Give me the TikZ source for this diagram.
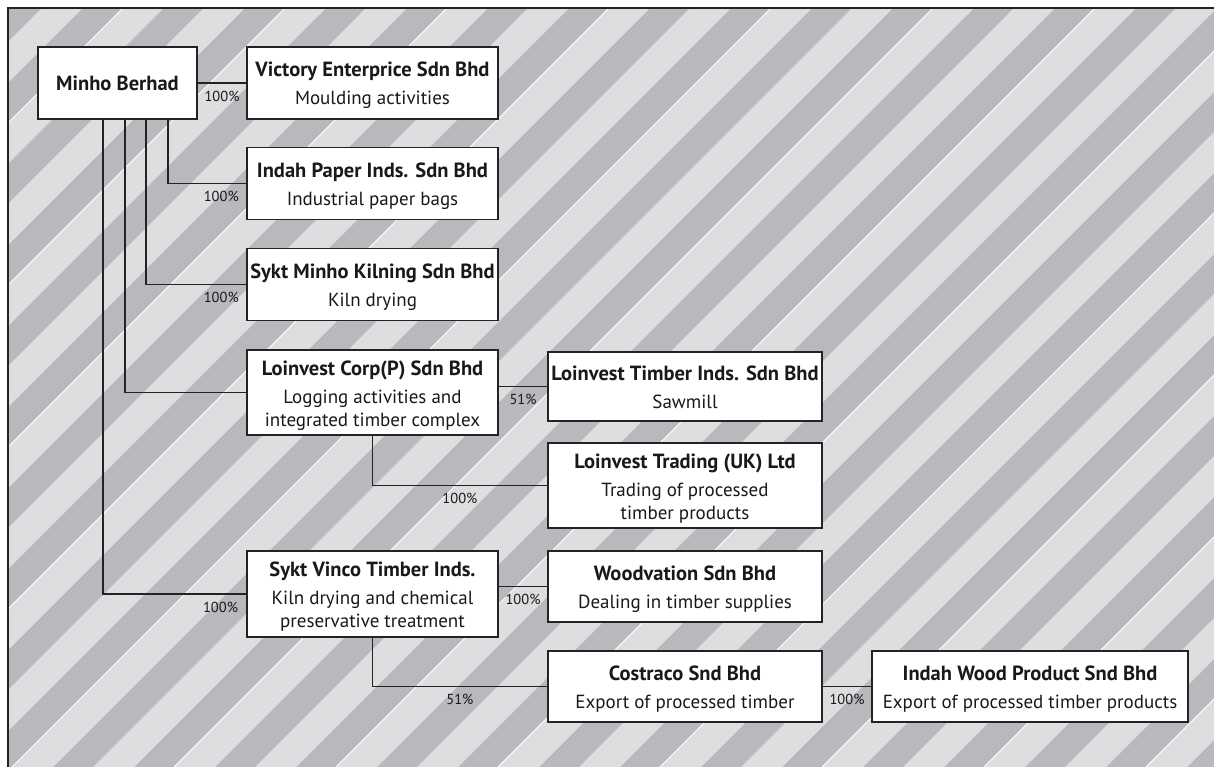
\documentclass[tikz,border=0pt]{standalone}
\usepackage{fontspec}
\setmainfont{PT Sans}
\usepackage{tikz}
\usetikzlibrary{positioning}

\definecolor{stripelight}{RGB}{221,222,224}
\definecolor{stripedark}{RGB}{184,185,188}
\definecolor{boxline}{RGB}{35,35,35}
\definecolor{textcol}{RGB}{25,25,25}

\tikzset{
  company/.style={draw=boxline, line width=1.3pt, fill=white, text=textcol, align=center,
    inner sep=0pt, minimum width=251pt, minimum height=72pt, font=\fontsize{19}{23}\selectfont},
  wide/.style={minimum width=274pt},
  link/.style={draw=boxline, line width=1.5pt},
  pct/.style={below=5pt, inner sep=2pt, text=textcol, font=\fontsize{14.5}{16}\selectfont},
}
\newcommand{\firm}[2]{{\bfseries\fontsize{20.5}{23}\selectfont\rule{0pt}{21pt}#1}\\[5pt]#2\rule[-5pt]{0pt}{0pt}}

\begin{document}
\begin{tikzpicture}[x=1pt, y=-1pt]
  \useasboundingbox (0,0) rectangle (1214,767);
  % striped background
  \begin{scope}
    \clip (8,8) rectangle (1214,767);
    \fill[stripedark] (8,8) rectangle (1214,767);
    \foreach \k in {0,...,26}{
      \fill[stripelight] (-31+81*\k,0) -- (10+81*\k,0) -- (10+81*\k-800,800) -- (-31+81*\k-800,800) -- cycle;
    }
    \foreach \k in {0,...,13}{
      \draw[white, line width=0.8pt] (-31+162*\k,0) -- (-31+162*\k-800,800);
    }
  \end{scope}
  \draw[boxline, line width=1.8pt] (1230,8) -- (8,8) -- (8,780);

  % companies
  \node[company, minimum width=159pt] (minho) at (117.5,83) {{\bfseries\fontsize{20.5}{23}\selectfont Minho Berhad}};
  \node[company] (victory) at (372.5,83) {\firm{Victory Enterprice Sdn Bhd}{Moulding activities}};
  \node[company] (paper) at (372.5,183.5) {\firm{Indah Paper Inds. Sdn Bhd}{Industrial paper bags}};
  \node[company] (kiln) at (372.5,284.5) {\firm{Sykt Minho Kilning Sdn Bhd}{Kiln drying}};
  \node[company, minimum height=85pt] (corp) at (372.5,392.5) {\firm{Loinvest Corp(P) Sdn Bhd}{Logging activities and\\integrated timber complex}};
  \node[company, minimum height=86pt] (vinco) at (372.5,594) {\firm{Sykt Vinco Timber Inds.}{Kiln drying and chemical\\preservative treatment}};
  \node[company, wide, minimum height=69pt] (ltimber) at (685,386.5) {\firm{Loinvest Timber Inds. Sdn Bhd}{Sawmill}};
  \node[company, wide, minimum height=85pt] (trading) at (685,485.5) {\firm{Loinvest Trading (UK) Ltd}{Trading of processed\\timber products}};
  \node[company, wide, minimum height=71pt] (woodv) at (685,586.5) {\firm{Woodvation Sdn Bhd}{Dealing in timber supplies}};
  \node[company, wide, minimum height=71pt] (costraco) at (685,686.5) {\firm{Costraco Snd Bhd}{Export of processed timber}};
  \node[company, minimum width=316pt, minimum height=71pt] (iwood) at (1030,686.5) {\firm{Indah Wood Product Snd Bhd}{Export of processed timber products}};

  % holdings
  \draw[link] (minho.east) -- (victory.west) node[pct, midway] (pc1) {100\%};
  \draw[link] ([xshift=50.5pt]minho.south) |- (paper.west) node[pct, pos=0.84] (pc2) {100\%};
  \draw[link] ([xshift=28.5pt]minho.south) |- (kiln.west) node[pct, pos=0.875] (pc3) {100\%};
  \draw[link] ([xshift=7.5pt]minho.south) |- (corp.west);
  \draw[link] ([xshift=-14.5pt]minho.south) |- (vinco.west) node[pct, pos=0.91] (pc4) {100\%};
  \draw[link] (ltimber.west -| corp.east) -- (ltimber.west) node[pct, midway] (pc5) {51\%};
  \draw[link] (corp.south) |- (trading.west) node[pct, pos=0.75] (pc6) {100\%};
  \draw[link] (woodv.west -| vinco.east) -- (woodv.west) node[pct, midway] (pc7) {100\%};
  \draw[link] (vinco.south) |- (costraco.west) node[pct, pos=0.75] (pc8) {51\%};
  \draw[link] (costraco.east) -- (iwood.west) node[pct, midway] (pc9) {100\%};
\end{tikzpicture}
\end{document}
